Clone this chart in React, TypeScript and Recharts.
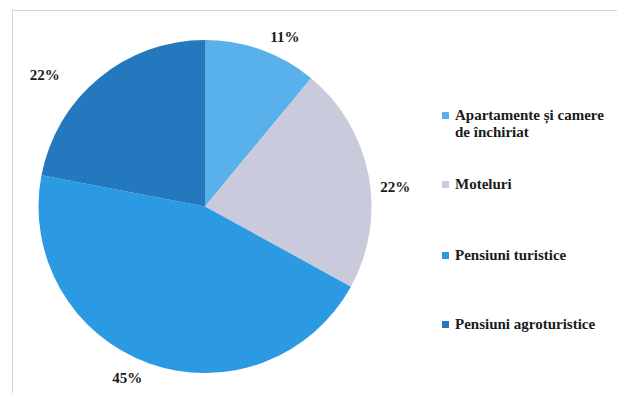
import React from "react";
import { PieChart, Pie, Cell } from "recharts";

const categories = [
  "Apartamente și camere de închiriat",
  "Moteluri",
  "Pensiuni turistice",
  "Pensiuni agroturistice",
];
const shares = [11, 22, 45, 22];
const labels = ["11%", "22%", "45%", "22%"];

const COLORS = ["#58B1EA", "#C9CADC", "#2B9AE3", "#2479BE"];
const LABEL_NUDGE = [
  [16, 8],
  [5, 16],
  [-14, -6],
  [-40, 14],
];
const FONT = "'Liberation Serif', 'Times New Roman', serif";

const data = categories.map((name, i) => ({ name, value: shares[i], label: labels[i] }));

const RAD = Math.PI / 180;

const renderLabel = (props: any) => {
  const { cx, cy, midAngle, outerRadius, index } = props;
  const r = outerRadius + 22;
  const x = cx + r * Math.cos(-midAngle * RAD) + LABEL_NUDGE[index][0];
  const y = cy + r * Math.sin(-midAngle * RAD) + LABEL_NUDGE[index][1];
  return (
    <text
      x={x}
      y={y}
      textAnchor="middle"
      dominantBaseline="central"
      fill="#1a1a1a"
      fontFamily={FONT}
      fontWeight="bold"
      fontSize={15}
    >
      {data[index].label}
    </text>
  );
};

const LEGEND_LINES: string[][] = [
  ["Apartamente și camere", "de închiriat"],
  ["Moteluri"],
  ["Pensiuni turistice"],
  ["Pensiuni agroturistice"],
];
const LEGEND_Y = [116, 185, 256, 325];

const CustomLegend = () => (
  <div style={{ position: "absolute", left: 0, top: 0, width: 617, height: 393, pointerEvents: "none" }}>
    {data.map((d, i) => (
      <div
        key={d.name}
        style={{
          position: "absolute",
          left: 442,
          top: LEGEND_Y[i] - 9,
          fontFamily: FONT,
          fontWeight: "bold",
          fontSize: 15,
          lineHeight: "17px",
          color: "#1a1a1a",
          whiteSpace: "nowrap",
        }}
      >
        <span
          style={{
            position: "absolute",
            left: 0,
            top: 5,
            width: 7,
            height: 7,
            background: COLORS[i],
          }}
        />
        <div style={{ marginLeft: 13 }}>
          {LEGEND_LINES[i].map((l) => (
            <div key={l}>{l}</div>
          ))}
        </div>
      </div>
    ))}
  </div>
);

export default function App() {
  return (
    <div style={{ position: "absolute", left: 0, top: 0, width: 617, height: 393, background: "#fff", overflow: "hidden" }}>
      <div
        style={{
          position: "absolute",
          left: 12,
          top: 10,
          width: 620,
          height: 400,
          borderTop: "1px solid #d4d4d4",
          borderLeft: "1px solid #d4d4d4",
        }}
      />
      <div style={{ position: "absolute", left: 0, top: 0 }}>
        <PieChart width={617} height={393} margin={{ top: 0, right: 0, bottom: 0, left: 0 }}>
          <Pie
            data={data}
            dataKey="value"
            nameKey="name"
            cx={205}
            cy={206.5}
            outerRadius={166.5}
            startAngle={90}
            endAngle={-270}
            stroke="none"
            label={renderLabel}
            labelLine={false}
            isAnimationActive={false}
          >
            {data.map((d, i) => (
              <Cell key={d.name} fill={COLORS[i]} />
            ))}
          </Pie>
        </PieChart>
      </div>
      <CustomLegend />
    </div>
  );
}
